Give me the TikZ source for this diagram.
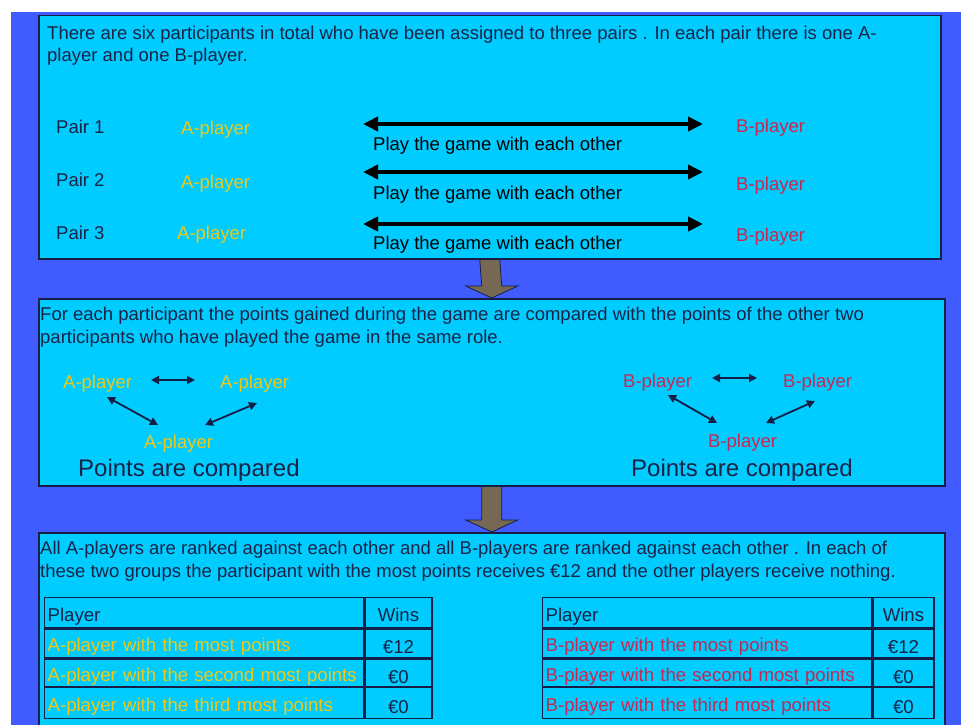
\documentclass[tikz,border=0pt]{standalone}
\usepackage{fontspec}
\setmainfont{Liberation Sans}
\usepackage{xcolor}
\usepackage{tikz}
\usetikzlibrary{arrows.meta,positioning,calc}
\definecolor{bgblue}{RGB}{64,92,255}
\definecolor{panelcyan}{RGB}{0,204,255}
\definecolor{edge}{RGB}{20,30,70}
\definecolor{ink}{RGB}{25,35,70}
\definecolor{ayellow}{RGB}{240,200,20}
\definecolor{bred}{RGB}{200,40,80}
\definecolor{arrowfill}{RGB}{118,104,82}
\tikzset{
  panel/.style={draw=edge, line width=1.5pt, fill=panelcyan, anchor=north west,
                inner sep=0pt},
  note/.style={anchor=base west, inner sep=0pt, text=ink,
               font=\fontsize{18.5}{22}\selectfont},
  AP/.style={note, text=ayellow},
  BP/.style={note, text=bred},
  big/.style={anchor=base west, inner sep=0pt, text=ink,
              font=\fontsize{24}{28}\selectfont},
  PA/.style={{Triangle[length=15pt,width=14pt]}-{Triangle[length=15pt,width=14pt]},
             line width=4pt, black},
  TA/.style={{Triangle[length=8pt,width=8pt]}-{Triangle[length=8pt,width=8pt]},
             line width=1.8pt, edge},
  DA/.style={fill=arrowfill, draw=edge, line width=0.8pt}
}

\begin{document}
\begin{tikzpicture}[x=1pt, y=-1pt,
  cell/.style={draw=edge, line width=1.3pt, inner xsep=3pt, inner ysep=0pt,
               text height=18pt, text depth=1pt,
               font=\fontsize{18.6}{22}\selectfont, text=ink},
  PC/.style={cell, minimum width=319pt, text width=313pt, align=left},
  WC/.style={cell, minimum width=67pt, text width=61pt, align=center,
             text height=21pt, text depth=0pt}
]
\useasboundingbox (0,0) rectangle (961,725);
\clip (0,0) rectangle (961,725);
\fill[bgblue] (11,12) rectangle (961,725);

% Panels
\node[panel, minimum width=902pt, minimum height=243pt] (top) at (38,15) {};
\node[panel, minimum width=906pt, minimum height=187pt] (mid) at (38,298) {};
\node[panel, minimum width=906pt, minimum height=220pt] (bot) at (38,532) {};

% -- Panel 1: the pairs --
\node[note] (intro1) at (47,40)
  {There are six participants in total who have been assigned to three pairs .  In each pair there is one A-};
\node[note] (intro2) at (47,62) {player and one B-player.};

\node[note] (pair1) at (56,133) {Pair 1};
\node[note] (pair2) at (56,186) {Pair 2};
\node[note] (pair3) at (56,239) {Pair 3};

\node[AP] (A1) at (181,134) {A-player};
\node[AP] (A2) at (181,188) {A-player};
\node[AP] (A3) at (177,239) {A-player};

\node[BP] (B1) at (736,132) {B-player};
\node[BP] (B2) at (736,190) {B-player};
\node[BP] (B3) at (736,241) {B-player};

\coordinate (L1) at (363,124); \coordinate (R1) at (703,124);
\coordinate (L2) at (363,172); \coordinate (R2) at (703,172);
\coordinate (L3) at (363,224); \coordinate (R3) at (703,224);
\draw[PA] (L1) -- (R1);
\draw[PA] (L2) -- (R2);
\draw[PA] (L3) -- (R3);
\node[note, text=black] (play1) at (373,150) {Play the game with each other};
\node[note, text=black] (play2) at (373,199) {Play the game with each other};
\node[note, text=black] (play3) at (373,249) {Play the game with each other};

% -- Panel 2: comparison within roles --
\node[note] (cmp1) at (40,320)
  {For each participant the points gained during the game are compared with the points of the other two};
\node[note] (cmp2) at (40,343) {participants who have played the game in the same role.};

\node[AP] (AL) at (63,388) {A-player};
\node[AP] (AR) at (220,388) {A-player};
\node[AP] (AB) at (144,448) {A-player};
\coordinate (a1) at (151,380); \coordinate (a2) at (195,380);
\coordinate (a3) at (107,397); \coordinate (a4) at (158,425);
\coordinate (a5) at (205,425); \coordinate (a6) at (257,403);
\draw[TA] (a1) -- (a2);
\draw[TA] (a3) -- (a4);
\draw[TA] (a5) -- (a6);
\node[big] (ptsA) at (78,476) {Points are compared};

\node[BP] (BL) at (623,387) {B-player};
\node[BP] (BR) at (783,387) {B-player};
\node[BP] (BB) at (708,447) {B-player};
\coordinate (b1) at (712,378); \coordinate (b2) at (757,378);
\coordinate (b3) at (668,395); \coordinate (b4) at (717,423);
\coordinate (b5) at (766,423); \coordinate (b6) at (815,401);
\draw[TA] (b1) -- (b2);
\draw[TA] (b3) -- (b4);
\draw[TA] (b5) -- (b6);
\node[big] (ptsB) at (631,476) {Points are compared};

% -- Panel 3: ranking and payoff --
\node[note] (rank1) at (40,554)
  {All A-players are ranked against each other and all B-players are ranked against each other .  In each of};
\node[note] (rank2) at (40,577)
  {these two groups the participant with the most points receives €12 and the other players receive nothing.};

% table A
\node[PC, anchor=north west, minimum height=30pt] (ta0) at (44,597) {Player};
\node[PC, below=0pt of ta0, minimum height=29pt, text=ayellow] (ta1) {A-player with the most points};
\node[PC, below=0pt of ta1, minimum height=27pt, text=ayellow] (ta2) {A-player with the second most points};
\node[PC, below=0pt of ta2, minimum height=31pt, text=ayellow] (ta3) {A-player with the third most points};
\node[WC, right=0pt of ta0, minimum height=30pt, text height=18pt, text depth=1pt] (wa0) {Wins};
\node[WC, right=0pt of ta1, minimum height=29pt] (wa1) {€12};
\node[WC, right=0pt of ta2, minimum height=27pt] (wa2) {€0};
\node[WC, right=0pt of ta3, minimum height=31pt] (wa3) {€0};

% table B
\node[PC, anchor=north west, minimum width=329pt, text width=323pt, minimum height=30pt] (tb0) at (542,597) {Player};
\node[PC, below=0pt of tb0, minimum width=329pt, text width=323pt, minimum height=29pt, text=bred] (tb1) {B-player with the most points};
\node[PC, below=0pt of tb1, minimum width=329pt, text width=323pt, minimum height=27pt, text=bred] (tb2) {B-player with the second most points};
\node[PC, below=0pt of tb2, minimum width=329pt, text width=323pt, minimum height=31pt, text=bred] (tb3) {B-player with the third most points};
\node[WC, right=0pt of tb0, minimum width=61pt, text width=55pt, minimum height=30pt, text height=18pt, text depth=1pt] (wb0) {Wins};
\node[WC, right=0pt of tb1, minimum width=61pt, text width=55pt, minimum height=29pt] (wb1) {€12};
\node[WC, right=0pt of tb2, minimum width=61pt, text width=55pt, minimum height=27pt] (wb2) {€0};
\node[WC, right=0pt of tb3, minimum width=61pt, text width=55pt, minimum height=31pt] (wb3) {€0};

% -- Block arrows between panels --
\draw[DA] ($(top.south)+(-10,0)$) -- ($(mid.north)+(-10,-12)$) -- ($(mid.north)+(-26,-12)$)
  -- (mid.north) -- ($(mid.north)+(26,-12)$) -- ($(mid.north)+(10,-12)$)
  -- ($(top.south)+(10,0)$) -- cycle;
\draw[DA] ($(mid.south)+(-10,0)$) -- ($(bot.north)+(-10,-12)$) -- ($(bot.north)+(-26,-12)$)
  -- (bot.north) -- ($(bot.north)+(26,-12)$) -- ($(bot.north)+(10,-12)$)
  -- ($(mid.south)+(10,0)$) -- cycle;

\end{tikzpicture}
\end{document}
